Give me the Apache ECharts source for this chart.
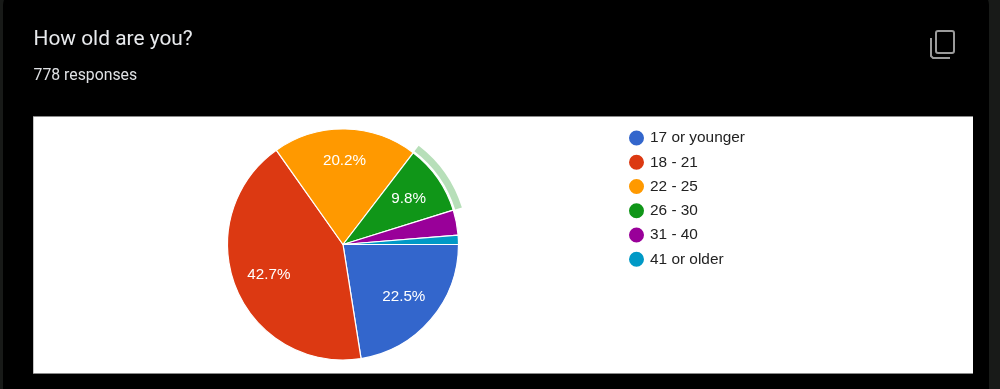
<!DOCTYPE html>
<html><head><meta charset="utf-8">
<style>html,body{margin:0;padding:0;background:#000}#c{width:1000px;height:389px}</style>
<script src="https://cdn.jsdelivr.net/npm/echarts@6/dist/echarts.min.js"></script>
</head><body><div id="c"></div>
<script>
const categories = ['17 or younger','18 - 21','22 - 25','26 - 30','31 - 40','41 or older'];
const shares = [22.5,42.7,20.2,9.8,3.5,1.3];
const colors = ['#3366cc','#dc3912','#ff9900','#109618','#990099','#0099c6'];
const labelled = ['17 or younger','18 - 21','22 - 25','26 - 30'];
const highlighted = '26 - 30';
const titleText = 'How old are you?';
const subtitleText = '778 responses';

const chart = echarts.init(document.getElementById('c'), null, {renderer:'canvas'});
const center = [343, 244.5];
const none = {color:'rgba(0,0,0,0)', borderWidth:0};
chart.setOption({
  animation:false,
  backgroundColor:'#000',
  color:colors,
  title:[
    {text:titleText,left:33.5,top:29.5,padding:0,textStyle:{fontFamily:'Roboto',fontSize:20.9,fontWeight:'normal',color:'#e8eaed'}},
    {text:subtitleText,left:33.5,top:68.5,padding:0,textStyle:{fontFamily:'Roboto',fontSize:15.8,fontWeight:'normal',color:'#dfe1e4'}}
  ],
  legend:{
    orient:'vertical',left:627,top:128.5,padding:0,icon:'circle',itemWidth:17,itemHeight:17,itemGap:5.25,
    data:categories,selectedMode:false,
    textStyle:{fontFamily:'Liberation Sans',fontSize:15.4,color:'#222',padding:0}
  },
  graphic:{elements:[
    {type:'rect',z:-30,silent:true,shape:{x:0,y:0,width:1000,height:389},style:{fill:'#181a18'}},
    {type:'rect',z:-29,silent:true,shape:{x:3,y:-8,width:986,height:410,r:13},style:{fill:'#000'}},
    {type:'rect',z:-28,silent:true,shape:{x:33,y:116,width:940,height:258},style:{fill:'#8a8a8a'}},
    {type:'rect',z:-27,silent:true,shape:{x:33.5,y:117,width:939.5,height:256},style:{fill:'#fff'}},
    {type:'rect',z:5,silent:true,shape:{x:936,y:31,width:18,height:22,r:2},style:{fill:'none',stroke:'#9b9b9b',lineWidth:2}},
    {type:'polyline',z:5,silent:true,shape:{points:[[931,38],[931,56],[933,58],[950,58]]},style:{fill:'none',stroke:'#9b9b9b',lineWidth:2}}
  ]},
  series:[
    {type:'pie',name:'Age',center:center,radius:[0,115.5],startAngle:0,clockwise:true,z:2,silent:true,
     label:{show:false},labelLine:{show:false},
     itemStyle:{borderColor:'#fff',borderWidth:1.2},
     emphasis:{disabled:true},
     data:categories.map((n,i)=>({name:n,value:shares[i]}))},
    {type:'pie',name:'Highlight',center:center,radius:[117.5,124.5],startAngle:0,clockwise:true,z:1,silent:true,
     label:{show:false},labelLine:{show:false},emphasis:{disabled:true},
     data:categories.map((n,i)=>({name:n,value:shares[i],
       itemStyle:n===highlighted?{color:'#b7dfb9',borderWidth:0}:none}))},
    {type:'pie',name:'Labels',center:center,radius:[39,115],startAngle:0,clockwise:true,z:3,silent:true,
     labelLine:{show:false},emphasis:{disabled:true},
     itemStyle:none,
     labelLayout:p=>p.dataIndex===2?{dy:-4}:{},
     label:{show:true,position:'inside',fontFamily:'Liberation Sans',fontSize:15.2,color:'#fff',
       formatter:p=>labelled.includes(p.name)?p.value.toFixed(1)+'%':''},
     data:categories.map((n,i)=>({name:n,value:shares[i],itemStyle:none}))}
  ]
});
</script></body></html>
